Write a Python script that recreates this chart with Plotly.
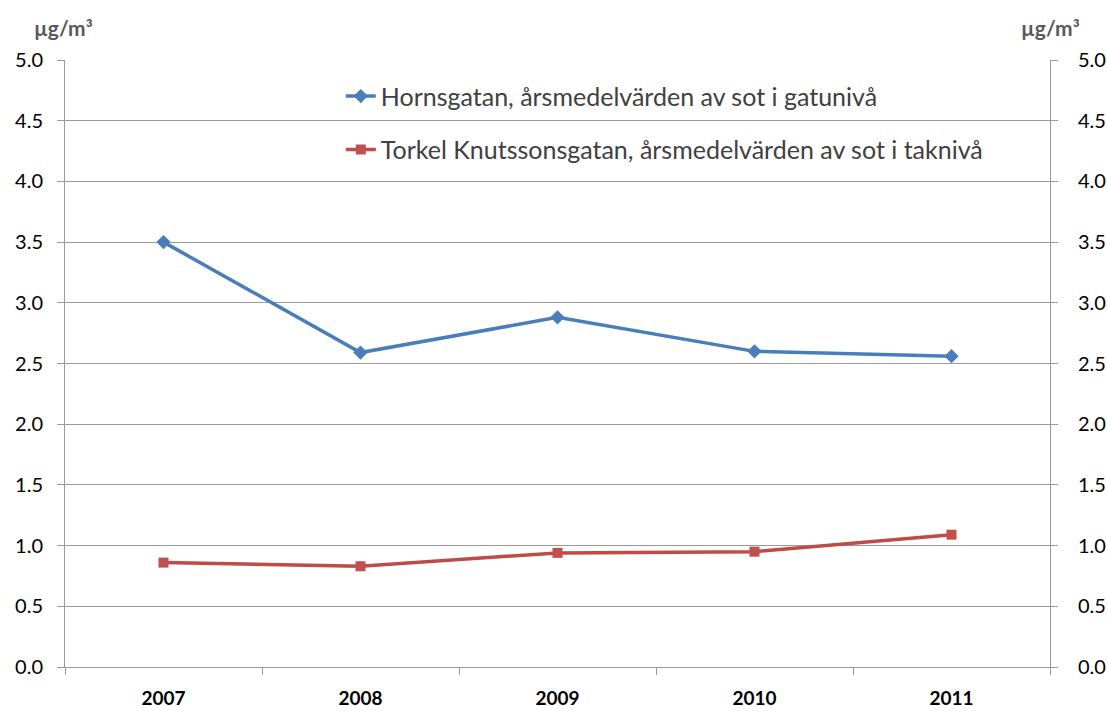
import plotly.graph_objects as go

years = ["2007", "2008", "2009", "2010", "2011"]
horns = [3.50, 2.59, 2.88, 2.60, 2.56]
torkel = [0.86, 0.83, 0.94, 0.95, 1.09]
name_horns = "Hornsgatan, årsmedelvärden av sot i gatunivå"
name_torkel = "Torkel Knutssonsgatan, årsmedelvärden av sot i taknivå"
unit = "µg/m³"

FONT = "Lato"
GRID = "#999999"

fig = go.Figure()
fig.add_trace(go.Scatter(x=years, y=horns, name=name_horns, mode="lines+markers",
                         line=dict(color="#4A7EBB", width=3.5),
                         marker=dict(symbol="diamond", size=11, color="#4A7EBB"),
                         legendgroup="a"))
fig.add_trace(go.Scatter(x=years, y=torkel, name=name_torkel, mode="lines+markers",
                         line=dict(color="#BE4B48", width=3.5),
                         marker=dict(symbol="square", size=10, color="#C0504D"),
                         legendgroup="b"))
# invisible trace for right axis
fig.add_trace(go.Scatter(x=years, y=horns, yaxis="y2", mode="lines",
                         line=dict(width=0), opacity=0, showlegend=False, hoverinfo="skip"))

yax = dict(range=[0, 5], dtick=0.5, tick0=0, tickformat=".1f",
           showgrid=True, gridcolor=GRID, gridwidth=1,
           showline=True, linecolor=GRID, linewidth=1,
           ticks="outside", ticklen=7, tickcolor=GRID,
           tickfont=dict(family=FONT, size=20, color="#000000"),
           zeroline=False, ticklabelstandoff=10, automargin=False)

fig.update_layout(
    width=1107, height=711,
    margin=dict(l=65, r=57, t=60, b=44),
    paper_bgcolor="white", plot_bgcolor="white",
    xaxis=dict(type="category", range=[-0.5, 4.5], showgrid=False,
               showline=True, linecolor=GRID, linewidth=1,
               ticks="outside", ticklen=7, tickcolor=GRID, tickson="boundaries",
               tickfont=dict(family=FONT, size=19, color="#000000", weight="bold"),
               ticklabelstandoff=14, automargin=False),
    yaxis=yax,
    yaxis2=dict(yax, overlaying="y", side="right", showgrid=False, ticklabelstandoff=16),
    showlegend=True,
    legend=dict(x=0.28, y=0.978, xanchor="left", yanchor="top",
                bgcolor="rgba(0,0,0,0)", font=dict(family=FONT, size=25, color="#404040"),
                tracegroupgap=18, itemwidth=30),
    shapes=[dict(type="rect", xref="paper", yref="paper", x0=0.254, x1=0.968,
                 y0=0.82, y1=0.99, fillcolor="white", line=dict(width=0), layer="between")],
    annotations=[
        dict(text=unit, xref="paper", yref="paper", x=-0.002, y=1.054, showarrow=False,
             xanchor="center", yanchor="middle",
             font=dict(family=FONT, size=21, color="#595959", weight="bold")),
        dict(text=unit, xref="paper", yref="paper", x=1.0, y=1.054, showarrow=False,
             xanchor="center", yanchor="middle",
             font=dict(family=FONT, size=21, color="#595959", weight="bold")),
    ],
)

fig.write_html("out.html", config={"displayModeBar": False},
               post_script="document.body.style.margin='0';document.body.style.overflow='hidden';")
